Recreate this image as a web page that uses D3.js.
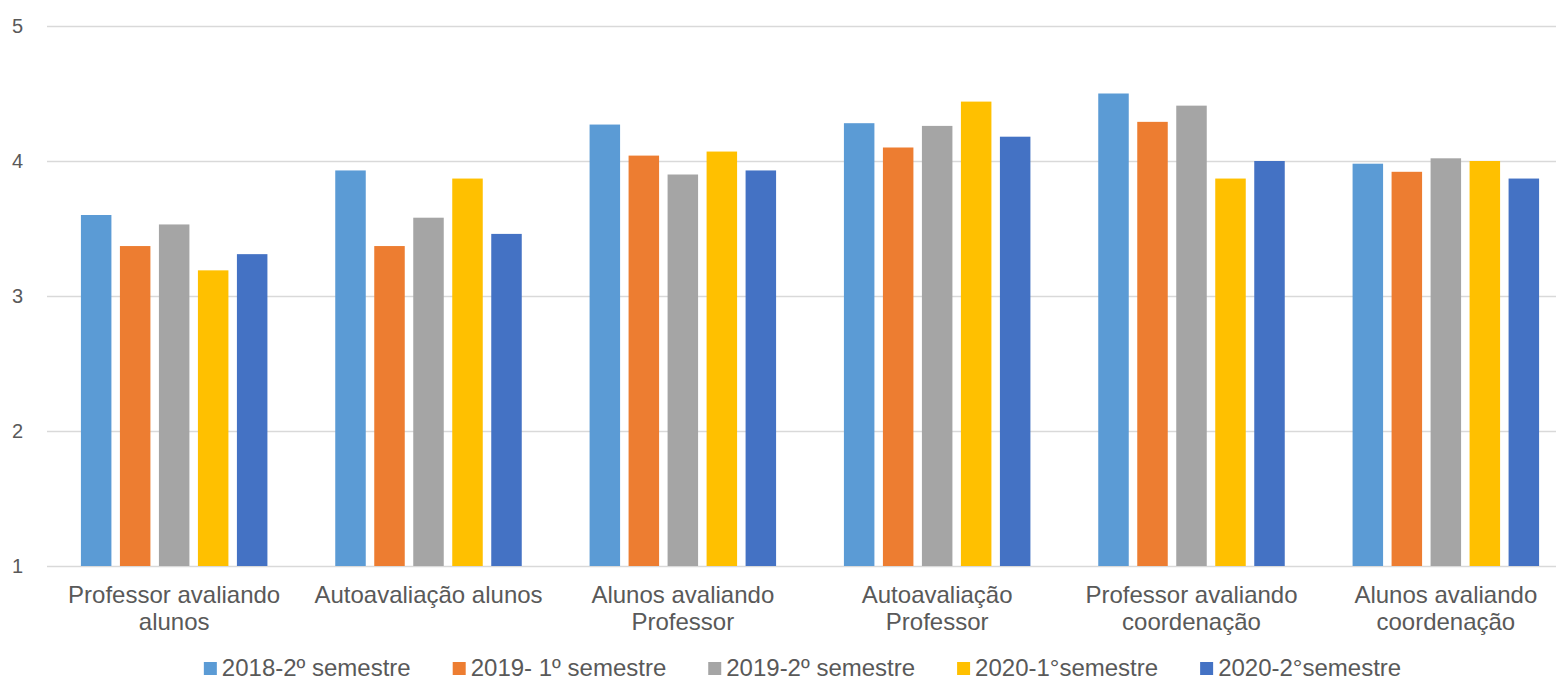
<!DOCTYPE html>
<html>
<head>
<meta charset="utf-8">
<script src="https://cdn.jsdelivr.net/npm/d3@7"></script>
<style>
  body { margin: 0; background: #fff; overflow: hidden; }
  svg { display: block; font-family: "Liberation Sans", Arial, sans-serif; }
</style>
</head>
<body>
<div id="chart"></div>
<script>
// data
var categories = [
	["Professor avaliando", "alunos"],
	["Autoavaliação alunos"],
	["Alunos avaliando", "Professor"],
	["Autoavaliação", "Professor"],
	["Professor avaliando", "coordenação"],
	["Alunos avaliando", "coordenação"]
];
var seriesNames = ["2018-2º semestre", "2019- 1º semestre", "2019-2º semestre", "2020-1°semestre", "2020-2°semestre"];
var seriesColors = ["#5B9BD5", "#ED7D31", "#A5A5A5", "#FFC000", "#4472C4"];
var s2018_2 = [3.60, 3.93, 4.27, 4.28, 4.50, 3.98];
var s2019_1 = [3.37, 3.37, 4.04, 4.10, 4.29, 3.92];
var s2019_2 = [3.53, 3.58, 3.90, 4.26, 4.41, 4.02];
var s2020_1 = [3.19, 3.87, 4.07, 4.44, 3.87, 4.00];
var s2020_2 = [3.31, 3.46, 3.93, 4.18, 4.00, 3.87];
var yTicks = [1, 2, 3, 4, 5];

var allSeries = [s2018_2, s2019_1, s2019_2, s2020_1, s2020_2];

var width = 1556,
	height = 682;

// plot area runs a bit past the right edge, as in the cropped original
var plotLeft = 47,
	plotRight = 1573,
	plotTop = 26,
	plotBottom = 566;

var svg = d3.select("#chart").append("svg")
	.attr("width", width)
	.attr("height", height);

var catIdx = d3.range(categories.length);

var x0 = d3.scaleBand()
	.domain(catIdx)
	.range([plotLeft, plotRight])
	.padding(0);

var groupPad = (x0.bandwidth() - 186.5) / 2;
var x1 = d3.scaleBand()
	.domain(d3.range(seriesNames.length))
	.range([groupPad, x0.bandwidth() - groupPad])
	.paddingInner(0.218)
	.paddingOuter(0);

var y = d3.scaleLinear()
	.domain([1, 5])
	.range([plotBottom, plotTop]);

// gridlines
svg.append("g")
	.selectAll("line")
	.data(yTicks)
	.enter().append("line")
	.attr("x1", plotLeft)
	.attr("x2", width)
	.attr("y1", function(d) { return Math.round(y(d)) + 0.5; })
	.attr("y2", function(d) { return Math.round(y(d)) + 0.5; })
	.attr("stroke", "#D9D9D9")
	.attr("stroke-width", 1.5);

// y axis labels
svg.append("g")
	.selectAll("text")
	.data(yTicks)
	.enter().append("text")
	.attr("x", 23)
	.attr("y", function(d) { return y(d); })
	.attr("dy", "0.36em")
	.attr("text-anchor", "end")
	.style("font-size", "20px")
	.style("fill", "#595959")
	.text(function(d) { return d; });

// bars
var groups = svg.append("g")
	.selectAll("g")
	.data(catIdx)
	.enter().append("g")
	.attr("transform", function(d) { return "translate(" + x0(d) + ",0)"; });

groups.selectAll("rect")
	.data(function(ci) {
		return allSeries.map(function(s, si) { return {si: si, v: s[ci]}; });
	})
	.enter().append("rect")
	.attr("x", function(d) { return x1(d.si); })
	.attr("y", function(d) { return y(d.v); })
	.attr("width", x1.bandwidth())
	.attr("height", function(d) { return y(1) - y(d.v); })
	.attr("fill", function(d) { return seriesColors[d.si]; });

// category labels
var catLabels = svg.append("g")
	.selectAll("text")
	.data(catIdx)
	.enter().append("text")
	.attr("x", function(d) { return x0(d) + x0.bandwidth() / 2; })
	.attr("y", 603)
	.attr("text-anchor", "middle")
	.style("font-size", "24px")
	.style("fill", "#595959");

catLabels.each(function(d) {
	var t = d3.select(this);
	categories[d].forEach(function(line, i) {
		t.append("tspan")
			.attr("x", x0(d) + x0.bandwidth() / 2)
			.attr("dy", i == 0 ? 0 : 27)
			.text(line);
	});
});

// legend
var legend = svg.append("g");
var items = legend.selectAll("g")
	.data(seriesNames)
	.enter().append("g");

items.append("rect")
	.attr("width", 13)
	.attr("height", 13)
	.attr("y", 662)
	.attr("fill", function(d, i) { return seriesColors[i]; });

items.append("text")
	.attr("x", 18)
	.attr("y", 676)
	.style("font-size", "24px")
	.style("fill", "#595959")
	.text(function(d) { return d; });

var offset = 0, positions = [];
items.each(function() {
	var w = d3.select(this).select("text").node().getComputedTextLength();
	positions.push(offset);
	offset += 18 + w + 42;
});
var total = offset - 42;
var start = 802.5 - total / 2;
items.attr("transform", function(d, i) { return "translate(" + (start + positions[i]) + ",0)"; });
</script>
</body>
</html>
